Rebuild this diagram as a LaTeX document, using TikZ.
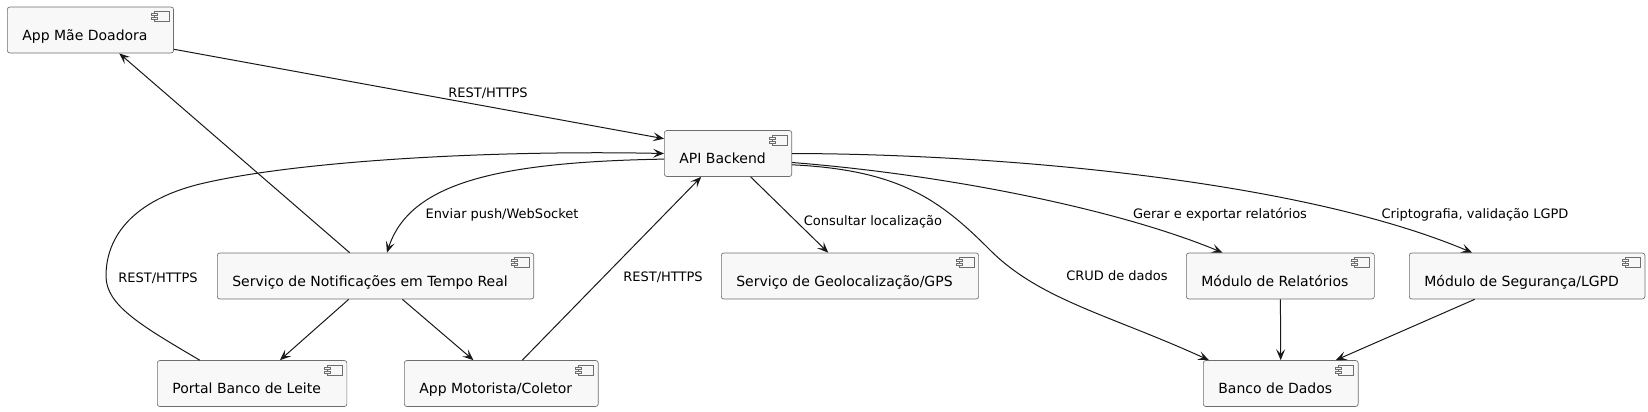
\documentclass[tikz,border=0pt]{standalone}
\usepackage{fontspec}
\setmainfont{DejaVu Sans}
\usetikzlibrary{arrows.meta}
\definecolor{lnc}{HTML}{181818}
\definecolor{boxline}{HTML}{6E6E6E}
\definecolor{boxc}{HTML}{F8F8F8}
\tikzset{every picture/.style={line width=0.75pt}}
\tikzset{
  comp/.style={draw=boxline, line width=0.5pt, fill=boxc, rounded corners=1.9pt, anchor=west,
    minimum height=34.5pt, inner xsep=11.25pt, inner ysep=0pt, text height=15.4pt, text depth=0pt,
    font=\fontsize{10.5pt}{12pt}\selectfont, execute at end node={\hspace{8.25pt}}},
  flow/.style={draw=lnc, line width=0.75pt, -{Stealth[length=8.25pt,width=6.75pt,inset=3.6pt]}},
  lbl/.style={font=\fontsize{9.75pt}{11pt}\selectfont, inner sep=0pt, text=black},
  icon/.style={draw=boxline, line width=0.5pt, fill=boxc}
}

\begin{document}
\begin{tikzpicture}[x=0.75pt,y=0.75pt,yscale=-1,xscale=1]
	\useasboundingbox (0,0) rectangle (1648,411);
	%Components
	\node[comp] (mae) at (7,30) {App Mãe Doadora};
	\node[comp] (api) at (664,153.5) {API Backend};
	\node[comp] (notif) at (217,276) {Serviço de Notificações em Tempo Real};
	\node[comp] (geo) at (721,276) {Serviço de Geolocalização/GPS};
	\node[comp] (rel) at (1186,276) {Módulo de Relatórios};
	\node[comp] (seg) at (1409,276) {Módulo de Segurança/LGPD};
	\node[comp] (portal) at (157,383.5) {Portal Banco de Leite};
	\node[comp] (moto) at (404,383.5) {App Motorista/Coletor};
	\node[comp] (banco) at (1203,383.5) {Banco de Dados};
	%Component icons
	\foreach \n in {mae,api,notif,geo,rel,seg,portal,moto,banco}{
		\draw[icon] (\n.north east) ++(-20,5) rectangle ++(15,10);
		\draw[icon] (\n.north east) ++(-23,7) rectangle ++(6,2);
		\draw[icon] (\n.north east) ++(-23,11) rectangle ++(6,2);
	}
	%Connectors
	\draw[flow] (mae.-13) -- (api.167);
	\node[lbl] (l1) at (488,93) {REST/HTTPS};
	\draw[flow] (notif.138.5) -- (mae.-39.4);
	\draw[flow] (portal.156.2) .. controls (140,325) and (106,305) .. (106,276) .. controls (106,235) and (135,200) .. (200,184) .. controls (300,160) and (500,150) .. (api.west);
	\node[lbl] (l2) at (158,278) {REST/HTTPS};
	\draw[flow] (api.185) .. controls (500,162) and (410,182) .. (notif.64);
	\node[lbl] (l3) at (502,215) {Enviar push/WebSocket};
	\draw[flow] (moto.48.4) -- (api.221.4);
	\node[lbl] (l4) at (663,277) {REST/HTTPS};
	\draw[flow] (api.-46.3) -- (geo.133.7);
	\node[lbl] (l5) at (873,222) {Consultar localização};
	\draw[flow] (api.-10.3) .. controls (900,170) and (940,200) .. (990,250) .. controls (1040,300) and (1110,315) .. (banco.162.9);
	\node[lbl] (l6) at (1117,276) {CRUD de dados};
	\draw[flow] (api.-8.5) .. controls (950,175) and (1120,210) .. (rel.158);
	\node[lbl] (l7) at (1220,215) {Gerar e exportar relatórios};
	\draw[flow] (api.east) .. controls (1000,154) and (1300,180) .. (seg.157.7);
	\node[lbl] (l8) at (1475,215) {Criptografia, validação LGPD};
	\draw[flow] (notif.221.5) -- (portal.40.9);
	\draw[flow] (notif.-41.5) -- (moto.140.2);
	\draw[flow] (rel) -- (banco);
	\draw[flow] (seg.204.3) -- (banco.23.4);
\end{tikzpicture}
\end{document}
